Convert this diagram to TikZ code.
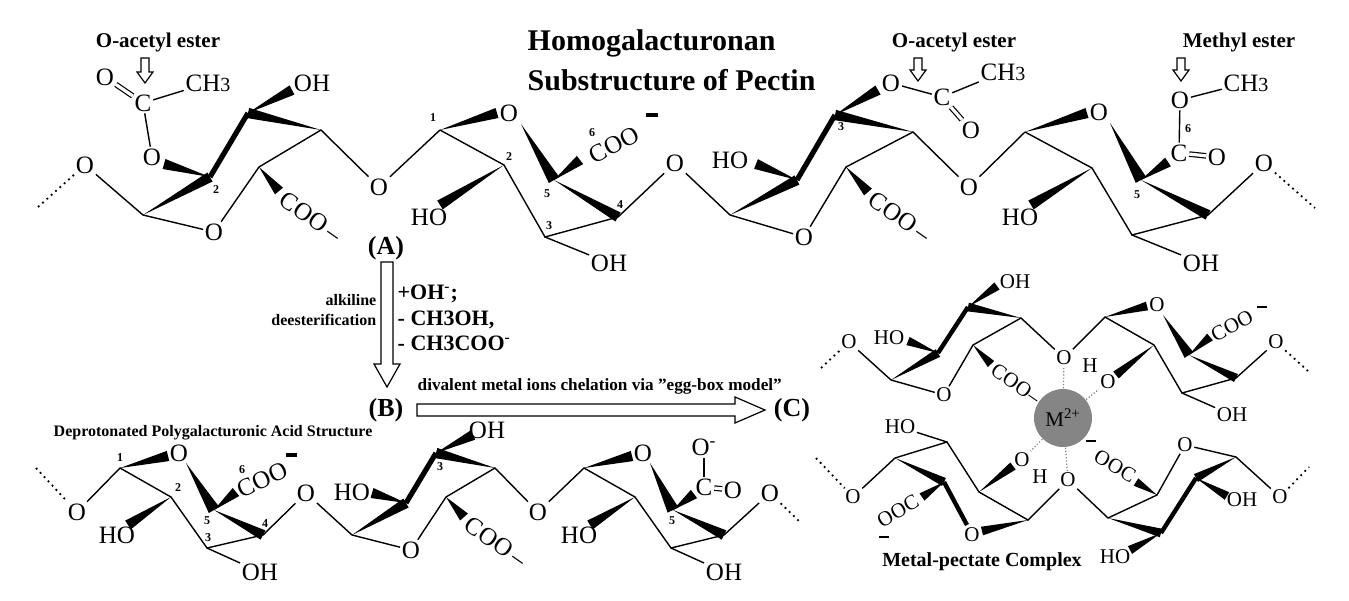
\documentclass[tikz,border=0pt]{standalone}
\usepackage{fontspec}
\setmainfont{Liberation Serif}
\usetikzlibrary{calc}
\newcommand\wdg[3][2.6pt]{\fill ($(#2)$) -- ($(#3)!#1!90:(#2)$) -- ($(#3)!#1!-90:(#2)$) -- cycle;}
\begin{document}
\begin{tikzpicture}[x=0.5pt,y=-0.5pt,line width=0.7pt,
 lab/.style={inner sep=0.6pt,font=\fontsize{12.5}{12.5}\selectfont},
 labs/.style={inner sep=0.5pt,font=\fontsize{10.5}{10.5}\selectfont},
 num/.style={inner sep=0pt,font=\bfseries\fontsize{6}{6}\selectfont},
 bl/.style={font=\bfseries\fontsize{#1}{#1}\selectfont,inner sep=0pt},
 thk/.style={line width=2.6pt},
 dbl/.style={double,double distance=1.6pt,line width=0.6pt},
 dot/.style={dotted,line width=0.9pt},
 coord/.style={densely dotted,gray,line width=0.6pt},
 hollow/.style={draw,line width=0.6pt,fill=white}]
\useasboundingbox (0,0) rectangle (1349,600);
% ================= (A) top chain =================
\node[bl=15,anchor=west] (t1) at (527,43) {Homogalacturonan};
\node[bl=15,anchor=west] (t2) at (527,80) {Substructure of Pectin};
% unit A1
\coordinate (a1) at (143,215); \coordinate (a2) at (210,177); \coordinate (a3) at (248,113);
\coordinate (a4) at (321,130); \coordinate (a5) at (259,167);
\node[lab] (aL) at (85,165) {O}; \node[lab] (aO) at (214,232) {O}; \node[lab] (g1) at (379,187) {O};
\coordinate (aL0) at (38,207);
\draw[dot] (aL0) -- (aL);
\draw (aL) -- (a1) -- (aO) -- (a5) -- (a4) -- (g1);
\wdg{a1}{a2} \draw[thk] (a2) -- (a3); \wdg{a4}{a3}
\node[lab] (aOH) at (312,83) {OH}; \coordinate (aOHw) at (292,90); \wdg{a3}{aOHw}
\node[lab] (eO) at (152,157) {O}; \coordinate (eOw) at (164,164); \wdg{a2}{eOw}
\node[lab] (aC) at (143,103) {C}; \node[lab] (aOd) at (105,77) {O}; \node[lab] (aMe) at (208,83) {CH\fontsize{10}{10}\selectfont3};
\draw (eO) -- (aC); \draw[dbl] (aC) -- (aOd); \draw (aC) -- (aMe);
\coordinate (aCw) at (279,191); \wdg{a5}{aCw}
\node[lab,rotate=-35,anchor=west] (aCOO) at (281,196) {COO\,–};
\node[num] (n2a) at (216,190) {2};
\node[bl=10.5] (oa1) at (158,42) {O-acetyl ester};
\draw[hollow] (141,58) -- (149,58) -- (149,72) -- (153,72) -- (145,83) -- (137,72) -- (141,72) -- cycle;
% unit A2
\coordinate (b1) at (440,130); \coordinate (b5) at (554,180); \coordinate (b2) at (504,165);
\coordinate (b3) at (545,237); \coordinate (b4) at (618,217);
\node[lab] (bO) at (509,113) {O}; \node[lab] (g2) at (675,163) {O};
\draw (g1) -- (b1); \coordinate (bOw) at (497,113); \wdg{b1}{bOw}
\coordinate (bOs) at (521,124); \wdg[3pt]{bOs}{b5}
\draw (b1) -- (b2) -- (b3) -- (b4) -- (g2);
\node[lab] (bHO) at (429,217) {HO}; \coordinate (bHOw) at (440,205); \wdg{b2}{bHOw}
\wdg{b5}{b4}
\coordinate (bCw) at (580,160); \wdg{b5}{bCw}
\node[lab,rotate=28] (bCOO) at (614,145) {COO}; \draw[line width=1.6pt] (646,115) -- (658,115);
\node[lab] (bOH) at (609,263) {OH}; \draw (b3) -- (bOH);
\node[num] at (433,118) {1}; \node[num] at (509,157) {2}; \node[num] at (549,226) {3};
\node[num] at (620,205) {4}; \node[num] at (547,194) {5}; \node[num] at (592,133) {6};
\node[bl=13] (lA) at (386,248) {(A)};
% unit A3
\coordinate (c1) at (730,215); \coordinate (c2) at (797,180); \coordinate (c3) at (835,115);
\coordinate (c4) at (913,132); \coordinate (c5) at (846,167);
\node[lab] (cO) at (804,237) {O}; \node[lab] (g3) at (969,187) {O};
\draw (g2) -- (c1) -- (cO) -- (c5) -- (c4) -- (g3);
\wdg{c1}{c2} \draw[thk] (c2) -- (c3); \wdg{c4}{c3}
\node[lab] (cHO) at (730,160) {HO}; \coordinate (cHOw) at (756,164); \wdg{c2}{cHOw}
\node[lab] (cEO) at (891,83) {O}; \coordinate (cEOw) at (878,90); \wdg{c3}{cEOw}
\node[lab] (cC) at (942,97) {C}; \node[lab] (cMe) at (1003,72) {CH\fontsize{10}{10}\selectfont3}; \node[lab] (cOd) at (971,130) {O};
\draw (cEO) -- (cC) -- (cMe); \draw[dbl] (cC) -- (cOd);
\coordinate (cCw) at (868,192); \wdg{c5}{cCw}
\node[lab,rotate=-35,anchor=west] (cCOO) at (870,196) {COO\,–};
\node[num] at (841,127) {3};
\node[bl=10.5] (oa2) at (954,42) {O-acetyl ester};
\draw[hollow] (914,58) -- (922,58) -- (922,70) -- (926,70) -- (918,81) -- (910,70) -- (914,70) -- cycle;
% unit A4
\coordinate (d1) at (1025,132); \coordinate (d5) at (1141,180); \coordinate (d2) at (1092,168);
\coordinate (d3) at (1132,235); \coordinate (d4) at (1208,215);
\node[lab] (dO) at (1099,112) {O}; \node[lab] (g4) at (1264,163) {O};
\draw (g3) -- (d1); \coordinate (dOw) at (1087,113); \wdg{d1}{dOw}
\coordinate (dOs) at (1110,123); \wdg[3pt]{dOs}{d5}
\draw (d1) -- (d2) -- (d3) -- (d4) -- (g4);
\coordinate (g4e) at (1315,208); \draw[dot] (g4) -- (g4e);
\node[lab] (dHO) at (1020,217) {HO}; \coordinate (dHOw) at (1031,205); \wdg{d2}{dHOw}
\wdg{d5}{d4}
\node[lab] (dOH) at (1201,263) {OH}; \draw (d3) -- (dOH);
\node[lab] (dC) at (1179,153) {C}; \coordinate (dCw) at (1168,162); \wdg{d5}{dCw}
\node[lab] (dOd) at (1217,157) {O}; \draw[dbl] (dC) -- (dOd);
\node[lab] (dEO) at (1180,100) {O}; \draw (dEO) -- (dC);
\node[lab] (dMe) at (1246,83) {CH\fontsize{10}{10}\selectfont3}; \draw (dEO) -- (dMe);
\node[num] at (1188,129) {6}; \node[num] at (1137,195) {5};
\node[bl=10.5] (me) at (1239,42) {Methyl ester};
\draw[hollow] (1177,58) -- (1185,58) -- (1185,70) -- (1189,70) -- (1181,81) -- (1173,70) -- (1177,70) -- cycle;
% ================= reaction arrows =================
\draw[hollow] (381,262) -- (393,262) -- (393,364) -- (400,364) -- (387,387) -- (374,364) -- (381,364) -- cycle;
\node[bl=8,anchor=east] (al1) at (377,300) {alkiline};
\node[bl=8,anchor=east] (al2) at (377,320) {deesterification};
\node[bl=11,anchor=west] (r1t) at (397,294) {+OH\textsuperscript{-};};
\node[bl=11,anchor=west] (r2t) at (397,320) {- CH3OH,};
\node[bl=11,anchor=west] (r3t) at (397,343) {- CH3COO\textsuperscript{-}};
\node[bl=13] (lB) at (386,410) {(B)};
\draw[hollow] (417,404) -- (735,404) -- (735,397) -- (765,410) -- (735,423) -- (735,416) -- (417,416) -- cycle;
\node[bl=8.6,anchor=west] (dv) at (417,386) {divalent metal ions chelation via \char34 egg-box model\char34};
\node[bl=13] (lC) at (792,410) {(C)};
% ================= (B) bottom chain =================
\node[bl=8,anchor=west] (dp) at (53,433) {Deprotonated Polygalacturonic Acid Structure};
% B1
\coordinate (e1) at (120,468); \coordinate (e5) at (214,510); \coordinate (e2) at (171,497);
\coordinate (e3) at (207,548); \coordinate (e4) at (263,535);
\node[lab] (eL) at (77,512) {O}; \node[lab] (eOr) at (179,453) {O}; \node[lab] (gb1) at (306,493) {O};
\coordinate (eL0) at (36,468); \draw[dot] (eL0) -- (eL);
\draw (eL) -- (e1) -- (e2) -- (e3) -- (e4) -- (gb1);
\coordinate (eOw) at (168,456); \wdg{e1}{eOw}
\coordinate (eOs) at (186,463); \wdg[3pt]{eOs}{e5}
\node[lab] (eHO) at (117,535) {HO}; \coordinate (eHOw) at (128,525); \wdg{e2}{eHOw}
\wdg{e5}{e4}
\coordinate (eCw) at (236,492); \wdg{e5}{eCw}
\node[lab,rotate=25] (eCOO) at (262,480) {COO}; \draw[line width=1.6pt] (286,455) -- (297,455);
\node[lab] (eOH) at (260,572) {OH}; \draw (e3) -- (eOH);
\node[num] at (120,458) {1}; \node[num] at (178,488) {2}; \node[num] at (208,538) {3};
\node[num] at (265,524) {4}; \node[num] at (207,521) {5}; \node[num] at (242,470) {6};
% B2
\coordinate (f1) at (352,535); \coordinate (f2) at (406,503); \coordinate (f3) at (436,453);
\coordinate (f4) at (495,468); \coordinate (f5) at (446,497);
\node[lab] (fO) at (411,550) {O}; \node[lab] (gb2) at (538,512) {O};
\draw (gb1) -- (f1) -- (fO) -- (f5) -- (f4) -- (gb2);
\wdg{f1}{f2} \draw[thk] (f2) -- (f3); \wdg{f4}{f3}
\node[lab] (fHO) at (352,492) {HO}; \coordinate (fHOw) at (372,493); \wdg{f2}{fHOw}
\node[lab] (fOH) at (487,430) {OH}; \coordinate (fOHw) at (473,435); \wdg{f3}{fOHw}
\coordinate (fCw) at (464,517); \wdg{f5}{fCw}
\node[lab,rotate=-35,anchor=west] (fCOO) at (466,521) {COO\,–};
\node[num] at (440,467) {3};
% B3
\coordinate (h1) at (584,468); \coordinate (h5) at (673,510); \coordinate (h2) at (635,497);
\coordinate (h3) at (671,548); \coordinate (h4) at (724,535);
\node[lab] (hO) at (643,453) {O}; \node[lab] (gb3) at (770,493) {O};
\draw (gb2) -- (h1) -- (h2) -- (h3) -- (h4) -- (gb3);
\coordinate (gb3e) at (800,522); \draw[dot] (gb3) -- (gb3e);
\coordinate (hOw) at (632,456); \wdg{h1}{hOw}
\coordinate (hOs) at (650,463); \wdg[3pt]{hOs}{h5}
\node[lab] (hHO) at (579,535) {HO}; \coordinate (hHOw) at (590,525); \wdg{h2}{hHOw}
\wdg{h5}{h4}
\node[lab] (hC) at (704,487) {C}; \coordinate (hCw) at (694,494); \wdg{h5}{hCw}
\node[lab] (hOd) at (733,490) {O}; \draw[dbl] (hC) -- (hOd);
\node[lab] (hOm) at (704,447) {O\textsuperscript{-}}; \draw (hC) -- (704,458);
\node[lab] (hOH) at (724,572) {OH}; \draw (h3) -- (hOH);
\node[num] at (672,521) {5};
% ================= (C) metal-pectate complex =================
\node[circle,fill=black!48,minimum size=58pt*0.5,inner sep=0pt,font=\fontsize{10.5}{10.5}\selectfont] (M) at (1063,418) {M\textsuperscript{2+}};
% upper-left
\coordinate (k1) at (891,380); \coordinate (k2) at (938,353); \coordinate (k3) at (968,307);
\coordinate (k4) at (1021,318); \coordinate (k5) at (973,345);
\node[labs] (kL) at (849,342) {O}; \node[labs] (kO) at (944,395) {O}; \node[labs] (Ob1) at (1064,358) {O};
\coordinate (kL0) at (821,368); \draw[dot] (kL0) -- (kL);
\draw (kL) -- (k1) -- (kO) -- (k5) -- (k4) -- (Ob1);
\wdg[2.2pt]{k1}{k2} \draw[line width=2.2pt] (k2) -- (k3); \wdg[2.2pt]{k4}{k3}
\node[labs] (kHO) at (889,338) {HO}; \coordinate (kHOw) at (908,341); \wdg[2.2pt]{k2}{kHOw}
\node[labs] (kOH) at (1015,282) {OH}; \coordinate (kOHw) at (997,286); \wdg[2.2pt]{k3}{kOHw}
\coordinate (kCw) at (991,364); \wdg[2.2pt]{k5}{kCw}
\node[labs,rotate=-35,anchor=west] (kCOO) at (992,367) {COO–};
% upper-right
\coordinate (m1) at (1105,317); \coordinate (m2) at (1154,345); \coordinate (m3) at (1182,393);
\coordinate (m4) at (1236,378); \coordinate (m5) at (1189,355);
\node[labs] (mO) at (1157,305) {O}; \node[labs] (Ob2) at (1276,342) {O};
\draw (Ob1) -- (m1) -- (m2) -- (m3) -- (m4) -- (Ob2);
\coordinate (Ob2e) at (1308,371); \draw[dot] (Ob2) -- (Ob2e);
\coordinate (mOw) at (1147,306); \wdg[2.2pt]{m1}{mOw}
\coordinate (mOs) at (1163,315); \wdg[2.6pt]{mOs}{m5}
\wdg[2.2pt]{m5}{m4}
\coordinate (mCw) at (1210,337); \wdg[2.2pt]{m5}{mCw}
\node[labs,rotate=28] (mCOO) at (1232,326) {COO}; \draw[line width=1.4pt] (1257,307) -- (1267,307);
\node[labs] (mOx) at (1108,382) {O}; \node[labs] (mH) at (1090,366) {H};
\coordinate (mOxw) at (1116,375); \wdg[2.2pt]{m2}{mOxw}
\node[labs] (mOH) at (1232,415) {OH}; \draw (m3) -- (mOH);
% lower-left
\coordinate (n1) at (895,458); \coordinate (n2) at (944,482); \coordinate (n3) at (947,442);
\coordinate (n4) at (979,492); \coordinate (n5) at (1028,520);
\node[labs] (nL) at (853,497) {O}; \node[labs] (nO) at (972,535) {O}; \node[labs] (Ob3) at (1068,480) {O};
\coordinate (nL0) at (816,458); \draw[dot] (nL0) -- (nL);
\draw (nL) -- (n1) -- (n3) -- (n4) -- (n5) -- (Ob3);
\wdg[2.2pt]{n1}{n2}
\node[labs] (nHO) at (900,427) {HO}; \draw (n3) -- (nHO);
\node[labs] (nOx) at (1022,460) {O}; \node[labs] (nH) at (1040,477) {H};
\coordinate (nOxw) at (1013,466); \wdg[2.2pt]{n4}{nOxw}
\coordinate (nOw) at (982,531); \wdg[2.2pt]{n5}{nOw}
\coordinate (nOs) at (967,525); \draw[line width=2.2pt] (nOs) -- (n2);
\coordinate (nCw) at (922,497); \wdg[2.2pt]{n2}{nCw}
\node[labs,rotate=30] (nOOC) at (898,511) {OOC}; \draw[line width=1.4pt] (879,537) -- (889,537);
% lower-right
\coordinate (q1) at (1108,518); \coordinate (q2) at (1161,533); \coordinate (q3) at (1157,495);
\coordinate (q4) at (1236,457); \coordinate (q5) at (1196,478);
\node[labs] (qO) at (1185,445) {O}; \node[labs] (Ob4) at (1280,497) {O};
\draw (Ob3) -- (q1) -- (q3) -- (qO) -- (q4) -- (Ob4);
\coordinate (Ob4e) at (1309,467); \draw[dot] (Ob4) -- (Ob4e);
\wdg[2.2pt]{q1}{q2} \draw[line width=2.2pt] (q5) -- (q2); \wdg[2.2pt]{q4}{q5}
\node[labs] (qHO) at (1115,557) {HO}; \coordinate (qHOw) at (1130,550); \wdg[2.2pt]{q2}{qHOw}
\node[labs,rotate=-30] (qOOC) at (1115,466) {OOC}; \coordinate (qCw) at (1136,482); \wdg[2.2pt]{q3}{qCw}
\draw[line width=1.4pt] (1086,441) -- (1096,441);
\node[labs] (qOH) at (1242,500) {OH}; \coordinate (qOHw) at (1227,496); \wdg[2.2pt]{q5}{qOHw}
% coordination
\draw[coord] (M) -- (Ob1); \draw[coord] (M) -- (mOx); \draw[coord] (M) -- (nOx); \draw[coord] (M) -- (Ob3);
\node[bl=10] (mpc) at (982,562) {Metal-pectate Complex};
\end{tikzpicture}
\end{document}
